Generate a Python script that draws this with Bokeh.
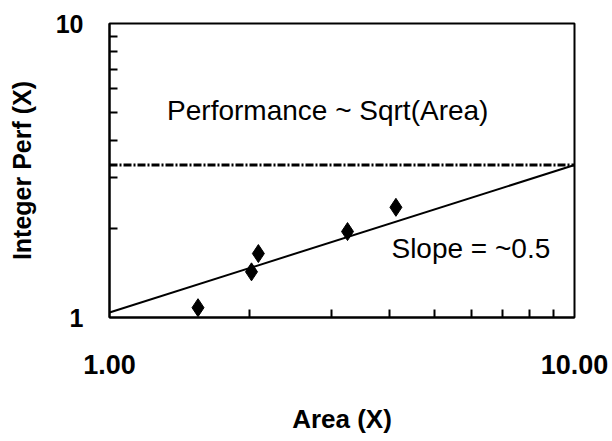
from bokeh.plotting import figure
from bokeh.models import FixedTicker, PrintfTickFormatter, Label
from bokeh.embed import file_html
from bokeh.resources import INLINE

# data
area = [1.55, 2.02, 2.09, 3.25, 4.13]
perf = [1.08, 1.43, 1.65, 1.96, 2.37]
fit_x = [1.0, 10.0]
fit_y = [1.04, 3.3]
sqrt_x = [1.0, 10.0]
sqrt_y = [3.3, 3.3]
x_ticks = [1, 10]
y_ticks = [1, 10]
minor = [2, 3, 4, 5, 6, 7, 8, 9]

FONT = "Liberation Sans"

p = figure(width=610, height=440, x_axis_type="log", y_axis_type="log",
           x_range=(1, 10), y_range=(1, 10),
           output_backend="svg", toolbar_location=None,
           min_border_left=109, min_border_right=36,
           min_border_top=23, min_border_bottom=123)
p.background_fill_color = "white"
p.border_fill_color = "white"
p.outline_line_color = "black"
p.outline_line_width = 2
p.xgrid.visible = False
p.ygrid.visible = False

p.line(sqrt_x, sqrt_y, line_color="black", line_width=3, line_dash="8 2 2 2")
p.line(fit_x, fit_y, line_color="black", line_width=2)
p.scatter(area, perf, marker="diamond", size=18, fill_color="black", line_color="black")

p.xaxis.ticker = FixedTicker(ticks=x_ticks, minor_ticks=minor)
p.yaxis.ticker = FixedTicker(ticks=y_ticks, minor_ticks=minor)
p.xaxis.formatter = PrintfTickFormatter(format="%.2f")
p.yaxis.formatter = PrintfTickFormatter(format="%d")

for ax in (p.xaxis, p.yaxis):
    ax.axis_line_color = "black"
    ax.axis_line_width = 2
    ax.major_tick_in = 0
    ax.major_tick_out = 0
    ax.minor_tick_in = 8
    ax.minor_tick_out = 0
    ax.minor_tick_line_width = 2
    ax.minor_tick_line_color = "black"
    ax.major_label_text_font = FONT
    ax.major_label_text_font_style = "bold"
    ax.major_label_text_color = "black"
    ax.axis_label_text_font = FONT
    ax.axis_label_text_font_style = "bold"
    ax.axis_label_text_color = "black"

p.xaxis.axis_label = "Area (X)"
p.yaxis.axis_label = "Integer Perf (X)"
p.xaxis.major_label_text_font_size = "27px"
p.yaxis.major_label_text_font_size = "25px"
p.xaxis.axis_label_text_font_size = "26px"
p.yaxis.axis_label_text_font_size = "25px"
p.xaxis.major_label_standoff = 37
p.xaxis.axis_label_standoff = 27
p.yaxis.major_label_standoff = 26
p.yaxis.axis_label_standoff = 17

p.add_layout(Label(x=1.33, y=5.06, text="Performance ~ Sqrt(Area)",
                   text_font=FONT, text_font_size="28px", text_color="black",
                   text_baseline="alphabetic"))
p.add_layout(Label(x=4.04, y=1.72, text="Slope = ~0.5",
                   text_font=FONT, text_font_size="28px", text_color="black",
                   text_baseline="alphabetic"))

open("out.html", "w").write(file_html(p, INLINE))
